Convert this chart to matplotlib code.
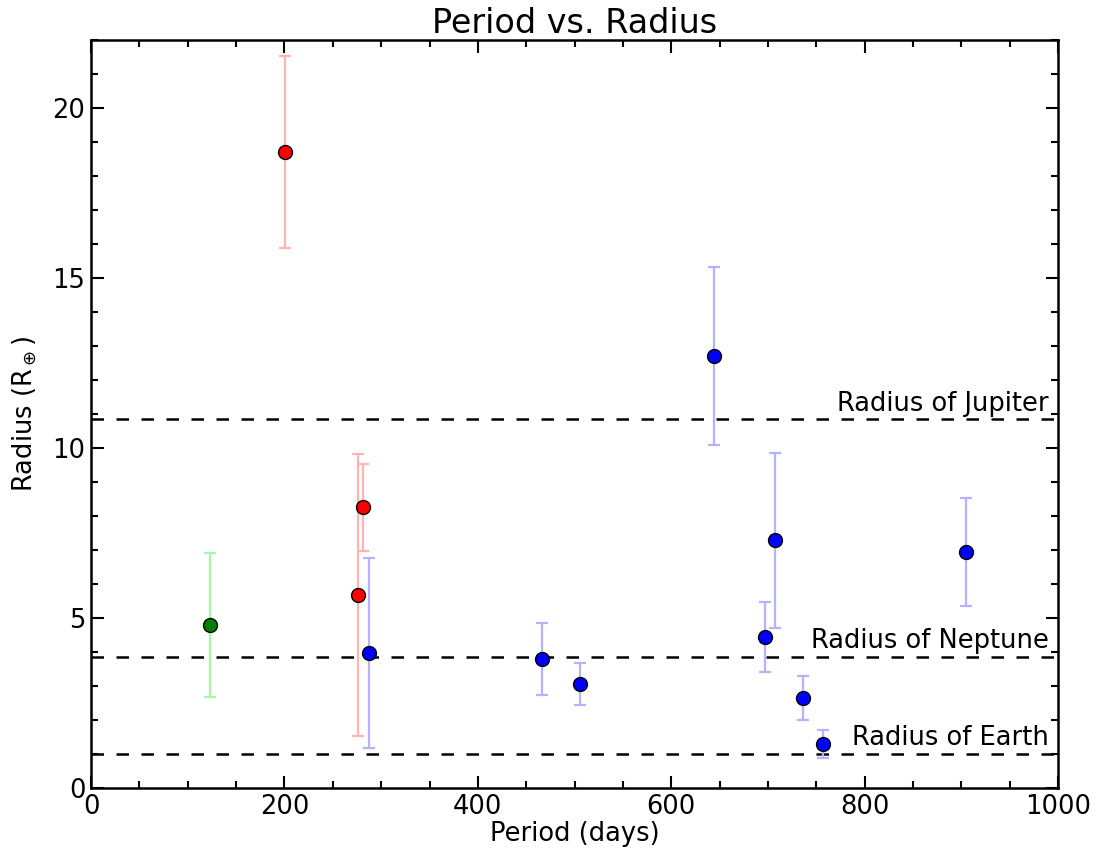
from matplotlib import pyplot as plt
from matplotlib.ticker import MultipleLocator

#%% Data
# green group
p_green = [123]
r_green = [4.80]
e_green = [2.12]
# red group
p_red = [200.5, 276, 281]
r_red = [18.72, 5.68, 8.26]
e_red = [2.82, 4.15, 1.28]
# blue group
p_blue = [287.5, 466, 505.5, 644, 707, 697, 736, 757, 905]
r_blue = [3.97, 3.79, 3.06, 12.70, 7.29, 4.44, 2.65, 1.29, 6.94]
e_blue = [2.80, 1.06, 0.62, 2.62, 2.57, 1.04, 0.66, 0.42, 1.59]

ref_names = ['Radius of Jupiter', 'Radius of Neptune', 'Radius of Earth']
ref_radius = [10.85, 3.86, 1.0]

#%% Plot
fig = plt.figure(figsize=(11.01, 8.56), dpi=100)
ax = fig.add_axes([0.0827, 0.0794, 0.8783, 0.8736])

for p, r, e, c, ec in [(p_green, r_green, e_green, 'green', '#a8f5a8'),
                       (p_red, r_red, e_red, 'red', '#ffb3b3'),
                       (p_blue, r_blue, e_blue, 'blue', '#b3b3ff')]:
    ax.errorbar(p, r, yerr=e, fmt='none', ecolor=ec, elinewidth=1.6, capsize=4.5, capthick=1.6, zorder=2)
    ax.plot(p, r, 'o', color=c, markeredgecolor='black', markersize=10, markeredgewidth=1, zorder=3)

for name, rad in zip(ref_names, ref_radius):
    ax.axhline(rad, color='black', linestyle=(0, (5, 5)), linewidth=1.8, zorder=1)
    ax.text(990, rad + 0.08, name, ha='right', va='bottom', fontsize=18.5)

ax.set_xlim([0, 1000])
ax.set_ylim([0, 22])
ax.xaxis.set_major_locator(MultipleLocator(200))
ax.xaxis.set_minor_locator(MultipleLocator(50))
ax.yaxis.set_major_locator(MultipleLocator(5))
ax.yaxis.set_minor_locator(MultipleLocator(1))
ax.tick_params(which='both', direction='in', top=True, right=True, labelsize=18.5, width=1.5)
ax.tick_params(which='major', length=9, pad=4)
ax.tick_params(which='minor', length=5)
for s in ax.spines.values():
    s.set_linewidth(1.8)

ax.set_xlabel('Period (days)', fontsize=18.5, labelpad=1)
ax.set_ylabel(r'Radius (R$_\oplus$)', fontsize=18.5, labelpad=10)
ax.set_title('Period vs. Radius', fontsize=24, pad=4)

plt.savefig('out.png', dpi=100)
